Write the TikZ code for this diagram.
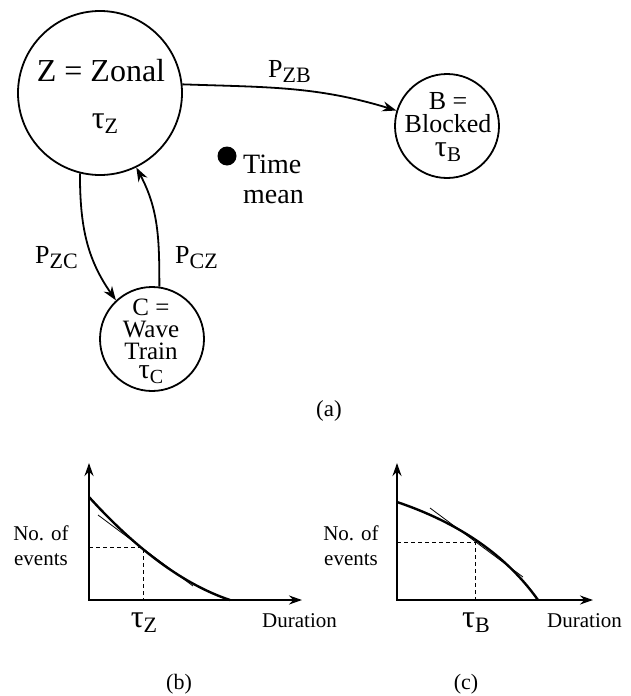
\documentclass[tikz,border=0pt]{standalone}
\usepackage{fontspec}
\setmainfont{Liberation Serif}
\usetikzlibrary{arrows.meta}
\newcommand\fs[1]{\fontsize{#1}{#1}\selectfont}
\newcommand\subl[2]{\raisebox{-5pt}{\fs{#1}#2}}
\begin{document}
\begin{tikzpicture}[x=1pt,y=-1pt,
 state/.style={circle,draw,line width=1.8pt,inner sep=0pt},
 txt/.style={inner sep=0pt,anchor=base},
 txtw/.style={inner sep=0pt,anchor=base west},
 stack/.style={inner sep=0pt,align=center},
 arr/.style={line width=1.8pt,-{Stealth[length=14pt,width=10pt]}},
 axis/.style={line width=2.2pt,{Stealth[length=13pt,width=9pt]}-{Stealth[length=13pt,width=9pt]}},
 curve/.style={line width=2.4pt},
 tang/.style={line width=0.8pt},
 guide/.style={line width=0.9pt,dash pattern=on 4pt off 3pt}]
\path[use as bounding box] (0,0) rectangle (630,696);

% states
\node[state,minimum size=164pt] (Z) at (100,93) {};
\node[state,minimum size=104pt] (B) at (447,126) {};
\node[state,minimum size=104pt] (C) at (152,339) {};

\node[txt] (Zt1) at (101,81) {\fs{32}Z = Zonal};
\node[txt] (Zt2) at (105,128) {\fs{32}τ\subl{22}{Z}};

\node[stack,font=\fontsize{26}{23.5}\selectfont] (Bt) at (448,127)
  {B =\\Blocked\\{\fs{30}τ\subl{21}{B}}};

\node[stack,font=\fontsize{25}{22}\selectfont] (Ct) at (151,341)
  {C =\\Wave\\Train\\[-3pt]{\fs{28}τ\subl{20}{C}}};

% time mean
\node[circle,fill,minimum size=19pt,inner sep=0pt] (dot) at (227,156) {};
\node[txtw] (tm1) at (243,173) {\fs{28}Time};
\node[txtw] (tm2) at (243,203) {\fs{28}mean};

% transitions
\draw[arr] (Z.6) to[out=-2,in=163] (B.163);
\draw[arr] (Z.256) to[out=-90,in=125] (C.133);
\draw[arr] (C.82) to[out=90,in=-62] (Z.296);

\node[txtw] (pzb) at (268,77) {\fs{26}P\subl{22}{ZB}};
\node[txtw] (pzc) at (35,263) {\fs{26}P\subl{22}{ZC}};
\node[txtw] (pcz) at (175,263) {\fs{26}P\subl{22}{CZ}};

\node[txt] (la) at (329,416) {\fs{23}(a)};

% plot (b)
\coordinate (bY) at (89,463);
\coordinate (bO) at (89,600);
\coordinate (bX) at (302,600);
\coordinate (bP) at (143,547);
\draw[guide] (bO |- bP) -- (bP) -- (bP |- bO);
\draw[axis] (bY) -- (bO) -- (bX);
\draw[curve] (89,497) .. controls (138,551) and (185,585) .. (230,600);
\draw[tang] (98,515) -- (193,586);
\node[txt] (bn1) at (41,540) {\fs{21}No. of};
\node[txt] (bn2) at (41,565) {\fs{21}events};
\node[txt] (btau) at (144,627) {\fs{32}τ\subl{22}{Z}};
\node[txtw] (bd) at (262,627) {\fs{21}Duration};
\node[txt] (lb) at (179,689) {\fs{22}(b)};

% plot (c)
\coordinate (cY) at (397,463);
\coordinate (cO) at (397,600);
\coordinate (cX) at (593,600);
\coordinate (cP) at (475,542);
\draw[guide] (cO |- cP) -- (cP) -- (cP |- cO);
\draw[axis] (cY) -- (cO) -- (cX);
\draw[curve] (397,502) .. controls (459,523) and (506,555) .. (538,600);
\draw[tang] (430,508) -- (523,577);
\node[txt] (cn1) at (351,540) {\fs{21}No. of};
\node[txt] (cn2) at (351,565) {\fs{21}events};
\node[txt] (ctau) at (476,627) {\fs{32}τ\subl{22}{B}};
\node[txtw] (cd) at (547,627) {\fs{21}Duration};
\node[txt] (lc) at (466,689) {\fs{22}(c)};
\end{tikzpicture}
\end{document}
